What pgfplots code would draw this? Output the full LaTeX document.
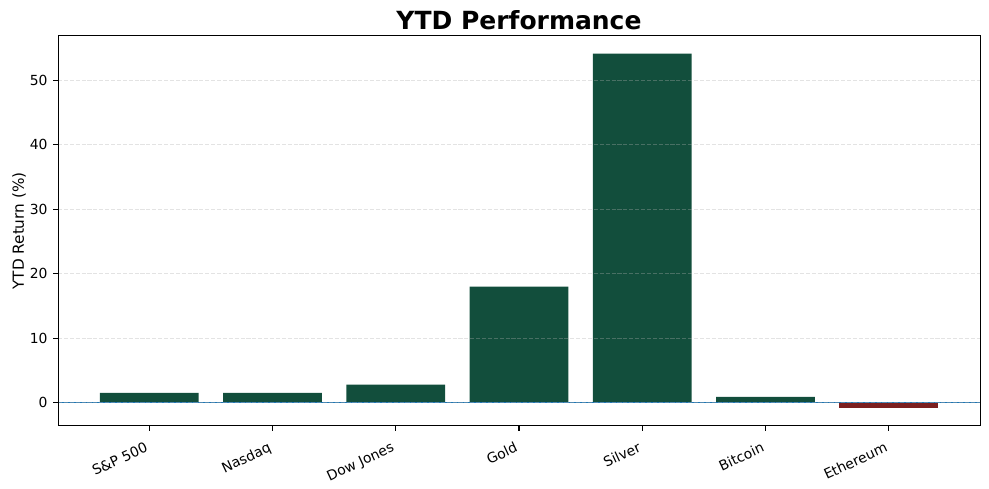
\documentclass[border=0pt]{standalone}
\usepackage{pgfplots}
\pgfplotsset{compat=1.18}
\usepackage{fontspec}
\setmainfont{DejaVu Sans}
\definecolor{posgreen}{HTML}{124E3C}
\definecolor{negred}{HTML}{7B1F1F}
\definecolor{zeroblue}{HTML}{1F77B4}
\definecolor{gridgray}{HTML}{B0B0B0}
\begin{document}
\begin{tikzpicture}
\path[use as bounding box] (-41.76pt,-45.36pt) rectangle (670.3pt,306.7pt);
\begin{axis}[
  at={(0pt,0pt)}, anchor=south west,
  scale only axis,
  width=663.8pt, height=280.8pt,
  xmin=-0.74, xmax=6.74,
  ymin=-3.6, ymax=56.85,
  xtick={0,1,2,3,4,5,6},
  xticklabels={S\&P 500,Nasdaq,Dow Jones,Gold,Silver,Bitcoin,Ethereum},
  ytick={0,10,20,30,40,50},
  tick align=outside,
  major tick length=3.5pt,
  tick style={black, line width=0.8pt},
  axis line style={line width=0.7pt},
  xtick pos=bottom, ytick pos=left,
  ymajorgrids,
  major grid style={dashed, gridgray, opacity=0.35, line width=0.8pt, dash pattern=on 2.96pt off 1.28pt},
  axis on top,
  /pgf/number format/assume math mode=true,
  ticklabel style={font=\fontsize{10}{12}\selectfont},
  xticklabel style={rotate=25, anchor=north east, yshift=-2pt, xshift=-3pt},
  yticklabel style={xshift=-0.5pt},
  ylabel={YTD Return (\%)},
  ylabel style={font=\fontsize{11}{13}\selectfont, yshift=-4pt},
  title={YTD Performance},
  title style={font=\fontsize{18}{21}\selectfont\bfseries, yshift=-5pt},
  bar width=0.8,
]
\addplot[ybar, bar shift=0pt, fill=posgreen, draw=none] coordinates {
  (0,1.55) (1,1.55) (2,2.8) (3,18.0) (4,54.1) (5,0.93)
};
\addplot[ybar, bar shift=0pt, fill=negred, draw=none] coordinates {
  (6,-0.85)
};
\addplot[zeroblue, line width=1pt, no marks] coordinates {(-0.74,0) (6.74,0)};
\end{axis}
\end{tikzpicture}
\end{document}
